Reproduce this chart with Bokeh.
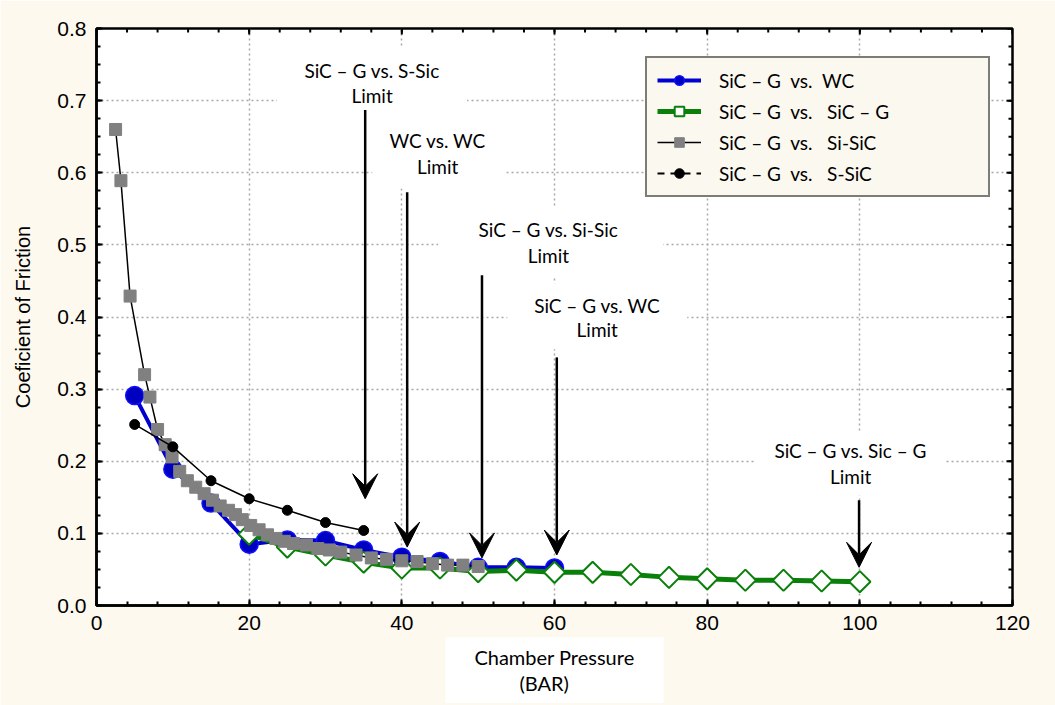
import numpy as np
from bokeh.plotting import figure
from bokeh.models import (Range1d, FixedTicker, Legend, LegendItem, Title,
                          Arrow, VeeHead, ColumnDataSource, PrintfTickFormatter)
from bokeh.core.properties import value
from bokeh.embed import file_html
from bokeh.resources import INLINE

# ---------------- data ----------------
wc_x = [5, 10, 15, 20, 25, 30, 35, 40, 45, 50, 55, 60]
wc_y = [0.291, 0.189, 0.142, 0.085, 0.091, 0.090, 0.077, 0.067, 0.061, 0.053, 0.053, 0.052]

sicg_x = [20, 25, 30, 35, 40, 45, 50, 55, 60, 65, 70, 75, 80, 85, 90, 95, 100]
sicg_y = [0.099, 0.081, 0.070, 0.060, 0.052, 0.052, 0.047, 0.049, 0.046, 0.046,
          0.043, 0.039, 0.037, 0.035, 0.035, 0.034, 0.033]

sisic_x = [2.5, 3.2, 4.4, 6.3, 7.0, 8.0, 9.0, 9.9, 10.9, 11.9, 13.0, 14.1, 15.2, 16.2,
           17.3, 18.2, 19.1, 20.2, 21.3, 22.4, 23.5, 24.6, 25.8, 27.5, 29.0, 30.5,
           32.0, 34.0, 36.0, 38.0, 40.0, 42.0, 44.0, 46.0, 48.0, 50.0]
sisic_y = [0.660, 0.589, 0.429, 0.320, 0.289, 0.244, 0.223, 0.206, 0.186, 0.173, 0.164,
           0.155, 0.146, 0.138, 0.132, 0.126, 0.119, 0.111, 0.105, 0.098, 0.093, 0.089,
           0.086, 0.084, 0.079, 0.077, 0.074, 0.070, 0.066, 0.064, 0.062, 0.061, 0.058,
           0.056, 0.056, 0.054]

ssic_x = [5, 10, 15, 20, 25, 30, 35]
ssic_y = [0.251, 0.220, 0.173, 0.148, 0.132, 0.115, 0.104]

legend_labels = ["SiC – G  vs.  WC", "SiC – G  vs.   SiC – G",
                 "SiC – G  vs.   Si-SiC", "SiC – G  vs.   S-SiC"]

x_ticks = [0, 20, 40, 60, 80, 100, 120]
x_minor = list(range(0, 121, 4))
y_ticks = [0.0, 0.1, 0.2, 0.3, 0.4, 0.5, 0.6, 0.7, 0.8]
y_minor = [round(i * 0.025, 3) for i in range(33)]
# second line indented with em spaces so it sits centred under the first
x_title = "Chamber Pressure\n\u2003\u2003\u2003(BAR)"
y_title = "Coeficient of Friction"

# limit annotations
ann_x = [36.1, 44.7, 59.2, 65.6, 98.8]
ann_line1 = ["SiC – G vs. S-Sic", "WC vs. WC", "SiC – G vs. Si-Sic", "SiC – G vs. WC", "SiC – G vs. Sic – G"]
ann_line2 = ["Limit", "Limit", "Limit", "Limit", "Limit"]
ann_y1 = [0.742, 0.645, 0.521, 0.416, 0.215]
ann_y2 = [0.707, 0.609, 0.485, 0.383, 0.179]
box_x = [36.1, 44.9, 59.5, 65.6, 98.8]
box_y = [0.725, 0.631, 0.503, 0.401, 0.197]
box_w = [190, 134, 225, 180, 190]
box_h = [70, 76, 70, 66, 64]

arr_x = [35.2, 40.7, 50.5, 60.3, 99.9]
arr_top = [0.687, 0.573, 0.458, 0.344, 0.146]
arr_tip = [0.148, 0.081, 0.066, 0.070, 0.053]

# ---------------- figure ----------------
x_lo, x_hi = x_ticks[0], x_ticks[-1]
y_lo, y_hi = y_ticks[0], y_ticks[-1]
p = figure(width=1055, height=705, output_backend="svg", toolbar_location=None,
           x_range=Range1d(x_lo, x_hi), y_range=Range1d(y_lo, y_hi),
           min_border_left=96, min_border_right=43, min_border_top=28, min_border_bottom=100)
p.background_fill_color = "white"
p.border_fill_color = "#FDF9EF"
p.outline_line_color = "black"
p.outline_line_width = 2.5

xt = FixedTicker(ticks=x_ticks, minor_ticks=x_minor)
yt = FixedTicker(ticks=y_ticks, minor_ticks=y_minor)
p.xaxis.ticker = xt
p.yaxis.ticker = yt
p.yaxis.formatter = PrintfTickFormatter(format="%.1f")
for ax in (p.xaxis[0], p.yaxis[0]):
    ax.axis_line_color = "black"
    ax.axis_line_width = 2.5
    ax.major_tick_in = 6
    ax.major_tick_out = 0
    ax.minor_tick_in = 4
    ax.minor_tick_out = 0
    ax.major_tick_line_width = 2
    ax.minor_tick_line_width = 2
    ax.major_label_text_font = "Liberation Sans"
    ax.major_label_text_font_size = "21px"
    ax.major_label_text_color = "black"
    ax.major_label_standoff = 10
p.yaxis.axis_label = y_title
p.yaxis.axis_label_text_font = "Liberation Sans"
p.yaxis.axis_label_text_font_size = "20px"
p.yaxis.axis_label_text_font_style = "normal"
p.yaxis.axis_label_text_color = "black"
p.yaxis.axis_label_standoff = 20

for g in (p.xgrid[0], p.ygrid[0]):
    g.grid_line_color = "#A8A8A8"
    g.grid_line_dash = "2 3"
    g.grid_line_width = 1.5
p.xgrid.ticker = xt
p.ygrid.ticker = yt

# inward ticks on the top and right frame edges (outer half clipped by the frame)
p.scatter(x=x_ticks, y=[y_hi] * len(x_ticks), marker="dash", angle=np.pi / 2, size=12,
          line_color="black", line_width=2)
p.scatter(x=x_minor, y=[y_hi] * len(x_minor), marker="dash", angle=np.pi / 2, size=8,
          line_color="black", line_width=2)
p.scatter(x=[x_hi] * len(y_ticks), y=y_ticks, marker="dash", size=12,
          line_color="black", line_width=2)
p.scatter(x=[x_hi] * len(y_minor), y=y_minor, marker="dash", size=8,
          line_color="black", line_width=2)

# white boxes behind annotation texts
p.rect(x=box_x, y=box_y, width=box_w, height=box_h, width_units="screen",
       height_units="screen", fill_color="white", line_color=None)

# series
bl = p.line(wc_x, wc_y, line_color="#0000D0", line_width=4)
bs = p.scatter(wc_x, wc_y, marker="circle", size=18, fill_color="#0000C0",
               line_color="#1010FF", line_width=1.5)
gl = p.line(sicg_x, sicg_y, line_color="#0A800A", line_width=5)
gs = p.scatter(sicg_x, sicg_y, marker="square", angle=np.pi / 4, size=15,
               fill_color="white", line_color="#0A800A", line_width=2)
sl = p.line(sisic_x, sisic_y, line_color="black", line_width=1.5)
ss = p.scatter(sisic_x, sisic_y, marker="square", size=12, fill_color="#808080",
               line_color="#808080")
kl = p.line(ssic_x, ssic_y, line_color="black", line_width=1.5)
ks = p.scatter(ssic_x, ssic_y, marker="circle", size=10, fill_color="black",
               line_color="black")
# legend-only dashed stroke for the S-SiC entry (no drawable data)
kd = p.line(x=[np.nan], y=[np.nan], line_color="black", line_width=2, line_dash="7 6")

# annotation texts
p.text(x=ann_x, y=ann_y1, text=ann_line1, text_align="center", text_baseline="middle",
       text_font=value("Lato"), text_font_size="19px", text_color="black")
p.text(x=ann_x, y=ann_y2, text=ann_line2, text_align="center", text_baseline="middle",
       text_font=value("Lato"), text_font_size="19px", text_color="black")

arr_src = ColumnDataSource(dict(x=arr_x, y0=arr_top, y1=arr_tip))
p.add_layout(Arrow(x_start="x", y_start="y0", x_end="x", y_end="y1", source=arr_src,
                   line_color="black", line_width=2.5,
                   end=VeeHead(size=25, fill_color="black", line_color="black")))

legend = Legend(items=[
    LegendItem(label=legend_labels[0], renderers=[bl, bs]),
    LegendItem(label=legend_labels[1], renderers=[gl, gs]),
    LegendItem(label=legend_labels[2], renderers=[sl, ss]),
    LegendItem(label=legend_labels[3], renderers=[kd, ks]),
], location=(549, 408))
legend.border_line_color = "black"
legend.border_line_width = 2.5
legend.background_fill_color = "#FBF8EF"
legend.background_fill_alpha = 1.0
legend.label_text_font = "Lato"
legend.label_text_font_size = "19px"
legend.label_text_color = "black"
legend.glyph_width = 44
legend.glyph_height = 24
legend.label_height = 24
legend.label_width = 259
legend.label_standoff = 18
legend.spacing = 7
legend.padding = 10
legend.margin = 0
p.add_layout(legend, "center")

# padding tuple is (horizontal, vertical)
xlab = Title(text=x_title, align="center", text_font="Lato", text_font_size="20px",
             text_font_style="normal", text_color="black", text_line_height=1.07,
             background_fill_color="white", padding=(29, 8), standoff=5)
p.add_layout(xlab, "below")

open("out.html", "w").write(file_html(p, INLINE))
